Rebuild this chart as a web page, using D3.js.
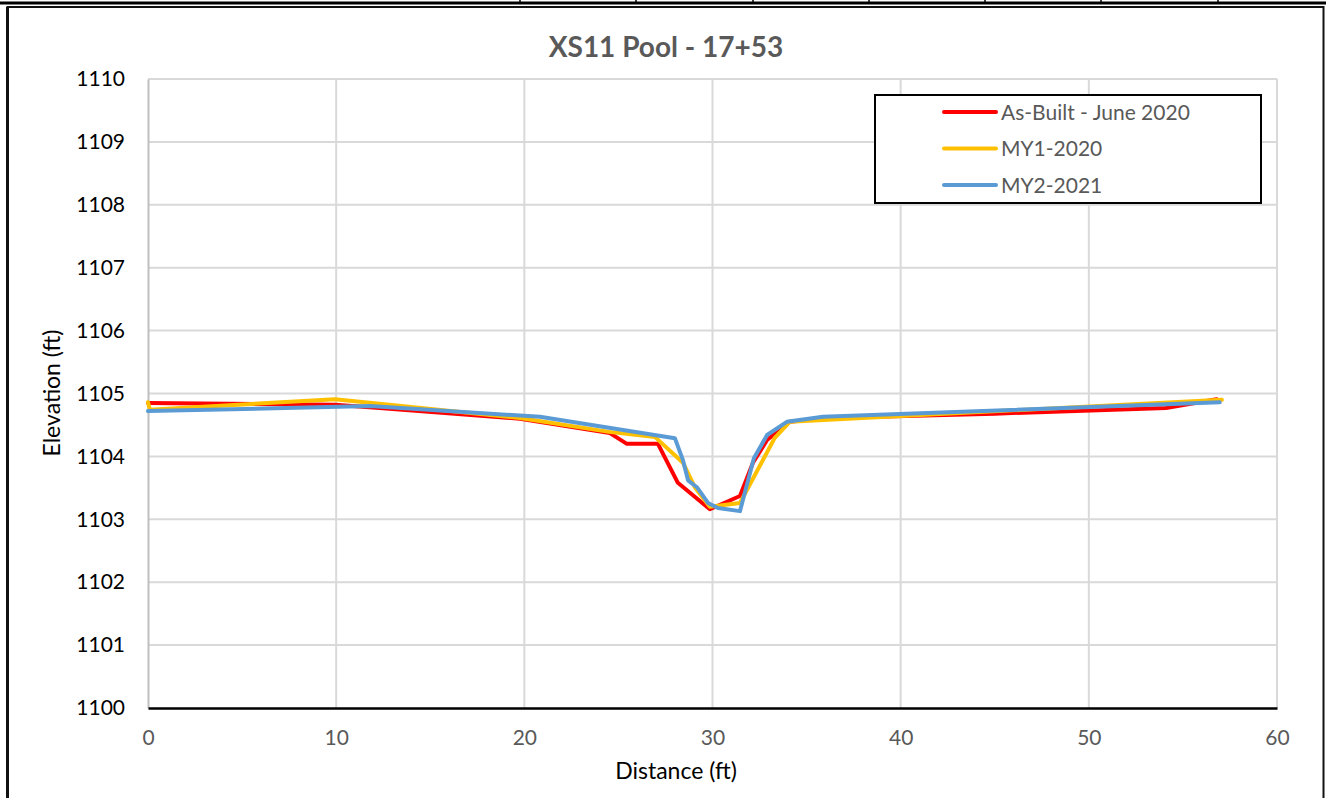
<html>
<head>
<style>
    body { margin: 0; background: #fff; }
    text { font-family: Lato, "Open Sans", sans-serif; }
</style>
</head>
<body>
<svg id="container" width="1326" height="798"></svg>
<script src="https://cdn.jsdelivr.net/npm/d3@7"></script>
<script>
    // data: distance (ft), elevation (ft)
    let asBuiltDist = [0, 9.94, 12.3, 19.77, 24.55, 25.45, 27.1, 28.16, 29.86, 31.46, 32.15, 32.9, 34.1, 36, 45, 54.1, 56.8]
    let asBuiltElev = [1104.85, 1104.82, 1104.77, 1104.6, 1104.37, 1104.2, 1104.2, 1103.58, 1103.16, 1103.37, 1103.9, 1104.26, 1104.55, 1104.61, 1104.68, 1104.77, 1104.91]

    let my1Dist = [0, 0.1, 9.94, 19.77, 24.5, 26.94, 28.43, 29.06, 29.86, 31.46, 33.3, 34.1, 35.9, 57.07]
    let my1Elev = [1104.86, 1104.74, 1104.91, 1104.61, 1104.39, 1104.31, 1103.9, 1103.51, 1103.2, 1103.26, 1104.29, 1104.55, 1104.58, 1104.9]

    let my2Dist = [0, 11.8, 20.83, 28.0, 28.43, 28.7, 29.17, 29.76, 30.29, 31.46, 32.2, 32.9, 33.95, 35.87, 56.96]
    let my2Elev = [1104.72, 1104.8, 1104.63, 1104.29, 1103.94, 1103.62, 1103.51, 1103.26, 1103.18, 1103.13, 1103.97, 1104.34, 1104.55, 1104.63, 1104.86]

    let seriesNames = ["As-Built - June 2020", "MY1-2020", "MY2-2021"]
    let seriesColors = ["#ff0000", "#ffc000", "#5b9bd5"]
    let xTicks = [0, 10, 20, 30, 40, 50, 60]
    let yTicks = [1100, 1101, 1102, 1103, 1104, 1105, 1106, 1107, 1108, 1109, 1110]

    let svg = d3.select("#container")

    // bits of the spreadsheet around the chart
    svg.append("line").attr("x1", 0).attr("x2", 1326).attr("y1", 3).attr("y2", 3)
        .attr("stroke", "#000").attr("stroke-width", 3)
    ;[520, 636, 753, 869, 985, 1101, 1218].forEach(x => {
        svg.append("line").attr("x1", x).attr("x2", x).attr("y1", 0).attr("y2", 2)
            .attr("stroke", "#000").attr("stroke-width", 1.5)
    })
    svg.append("rect").attr("x", 7.5).attr("y", 7).attr("width", 1316).attr("height", 800)
        .attr("fill", "none").attr("stroke", "#111").attr("stroke-width", 2)
    svg.append("line").attr("x1", 7.5).attr("x2", 7.5).attr("y1", 7).attr("y2", 798)
        .attr("stroke", "#111").attr("stroke-width", 3)

    let x = d3.scaleLinear().domain([0, 60]).range([148, 1277])
    let y = d3.scaleLinear().domain([1100, 1110]).range([708, 79])

    // gridlines
    svg.append("g").selectAll("line").data(yTicks.slice(1)).enter().append("line")
        .attr("x1", x(0)).attr("x2", x(60))
        .attr("y1", d => y(d)).attr("y2", d => y(d))
        .attr("stroke", "#d9d9d9").attr("stroke-width", 2)
    svg.append("g").selectAll("line").data(xTicks.slice(1)).enter().append("line")
        .attr("x1", d => x(d)).attr("x2", d => x(d))
        .attr("y1", y(1100)).attr("y2", y(1110))
        .attr("stroke", "#d9d9d9").attr("stroke-width", 2)

    // axes
    let yAxis = svg.append("g").attr("transform", "translate(" + x(0) + ",0)")
        .call(d3.axisLeft(y).tickValues(yTicks).tickSize(0).tickPadding(23).tickFormat(d3.format("d")))
    yAxis.select(".domain").attr("stroke", "#bfbfbf").attr("stroke-width", 2)
    yAxis.selectAll("text").attr("font-size", 21).attr("fill", "#000")
        .attr("font-family", "Lato, sans-serif")

    let xAxis = svg.append("g").attr("transform", "translate(0," + y(1100) + ")")
        .call(d3.axisBottom(x).tickValues(xTicks).tickSize(0).tickPadding(22))
    xAxis.select(".domain").attr("stroke", "#000").attr("stroke-width", 2.5)
    xAxis.selectAll("text").attr("font-size", 21).attr("fill", "#595959")
        .attr("font-family", "Lato, sans-serif")

    // series
    let series = [
        { name: seriesNames[0], color: seriesColors[0], dist: asBuiltDist, elev: asBuiltElev },
        { name: seriesNames[1], color: seriesColors[1], dist: my1Dist, elev: my1Elev },
        { name: seriesNames[2], color: seriesColors[2], dist: my2Dist, elev: my2Elev }
    ]
    let line = d3.line().x(d => x(d[0])).y(d => y(d[1]))
    svg.append("g").selectAll("path").data(series).enter().append("path")
        .attr("d", s => line(d3.zip(s.dist, s.elev)))
        .attr("fill", "none")
        .attr("stroke", s => s.color)
        .attr("stroke-width", 4)
        .attr("stroke-linejoin", "round")
        .attr("stroke-linecap", "round")

    // titles
    svg.append("text").attr("x", 666).attr("y", 57).attr("text-anchor", "middle")
        .attr("font-size", 28).attr("font-weight", "bold").attr("fill", "#595959")
        .text("XS11 Pool - 17+53")
    svg.append("text").attr("x", 676).attr("y", 779).attr("text-anchor", "middle")
        .attr("font-size", 23).attr("fill", "#000").text("Distance (ft)")
    svg.append("text").attr("transform", "translate(60,393) rotate(-90)").attr("text-anchor", "middle")
        .attr("font-size", 23).attr("fill", "#000").text("Elevation (ft)")

    // legend
    let legend = svg.append("g")
    legend.append("rect").attr("x", 875).attr("y", 95).attr("width", 386).attr("height", 108)
        .attr("fill", "#fff").attr("stroke", "#000").attr("stroke-width", 2)
    let items = legend.selectAll(".item").data(series).enter().append("g")
        .attr("transform", (d, i) => "translate(0," + (112 + i * 36.5) + ")")
    items.append("line").attr("x1", 944).attr("x2", 996).attr("y1", 0).attr("y2", 0)
        .attr("stroke", d => d.color).attr("stroke-width", 4).attr("stroke-linecap", "round")
    items.append("text").attr("x", 1001).attr("y", 7.5).attr("font-size", 21).attr("fill", "#595959")
        .text(d => d.name)
</script>
</body>
</html>
